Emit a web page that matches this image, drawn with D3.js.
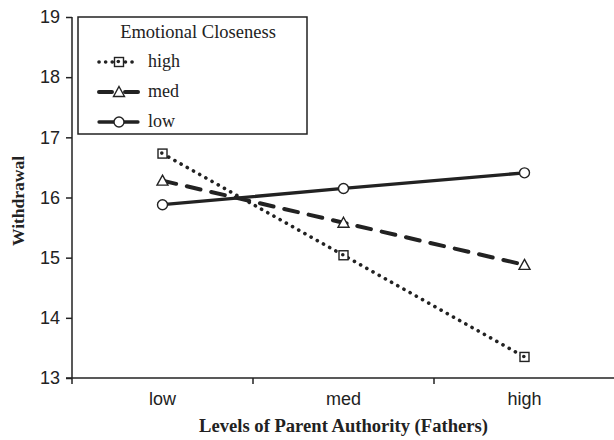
<!DOCTYPE html>
<html>
<head>
<meta charset="utf-8">
<script src="https://cdn.jsdelivr.net/npm/d3@7"></script>
<style>
  body { margin: 0; background: #fff; }
  svg { display: block; }
</style>
</head>
<body>
<svg id="chart" width="614" height="440"></svg>
<script>
// data
var levels = ["low", "med", "high"]
var closeness = ["high", "med", "low"]
var highVals = [16.73, 15.04, 13.35]
var medVals = [16.28, 15.58, 14.88]
var lowVals = [15.88, 16.15, 16.41]
var yTicks = [13, 14, 15, 16, 17, 18, 19]

var series = [
    {name: "high", values: highVals, dash: "0.1,7", legDash: "0.1,6.5", width: 3.6, marker: "square"},
    {name: "med", values: medVals, dash: "14,11", legDash: "13,13,13", width: 4, marker: "triangle"},
    {name: "low", values: lowVals, dash: null, legDash: null, width: 3.3, marker: "circle"}
]

var svg = d3.select("#chart")
var pLeft = 72, pRight = 615, pTop = 17, pBottom = 378

var x = d3.scaleBand().domain(levels).range([pLeft, pRight])
var y = d3.scaleLinear().domain([13, 19]).range([pBottom, pTop])
var ink = "#222"
var sans = "'Liberation Sans', Arial, sans-serif"
var serif = "'Liberation Serif', 'Times New Roman', serif"

// y axis
var yAxis = svg.append("g")
    .attr("transform", "translate(" + pLeft + ",0)")
    .call(d3.axisLeft(y).tickValues(yTicks).tickSize(6).tickPadding(6).tickFormat(d3.format("d")))
yAxis.select(".domain").attr("stroke", ink).attr("stroke-width", 1.5).attr("d", "M0," + pTop + "V" + pBottom)
yAxis.selectAll(".tick line").attr("stroke", ink).attr("stroke-width", 1.5)
yAxis.selectAll("text")
    .style("font-family", sans)
    .style("font-size", "18px")
    .attr("fill", ink)

// x axis, ticks on the category boundaries
var xAxis = svg.append("g").attr("transform", "translate(0," + pBottom + ")")
xAxis.append("line")
    .attr("x1", pLeft - 6).attr("x2", pRight)
    .attr("stroke", ink).attr("stroke-width", 1.5)
var bounds = [pLeft].concat(levels.slice(1).map(function(d){ return x(d) }))
xAxis.selectAll(".xt")
    .data(bounds)
    .enter().append("line")
    .attr("class", "xt")
    .attr("x1", function(d){ return d }).attr("x2", function(d){ return d })
    .attr("y1", 0).attr("y2", 6)
    .attr("stroke", ink).attr("stroke-width", 1.5)
xAxis.selectAll(".xl")
    .data(levels)
    .enter().append("text")
    .attr("class", "xl")
    .attr("x", function(d){ return x(d) + x.bandwidth()/2 })
    .attr("y", 27)
    .attr("text-anchor", "middle")
    .style("font-family", sans)
    .style("font-size", "18px")
    .attr("fill", ink)
    .text(function(d){ return d })

// axis titles
svg.append("text")
    .attr("x", (pLeft + pRight)/2).attr("y", 432)
    .attr("text-anchor", "middle")
    .style("font-family", serif)
    .style("font-weight", "bold")
    .style("font-size", "18.6px")
    .attr("fill", ink)
    .text("Levels of Parent Authority (Fathers)")
svg.append("text")
    .attr("transform", "translate(24," + 201 + ") rotate(-90)")
    .attr("text-anchor", "middle")
    .style("font-family", serif)
    .style("font-weight", "bold")
    .style("font-size", "17.5px")
    .attr("fill", ink)
    .text("Withdrawal")

function drawMarker(g, type, cx, cy){
    if(type == "square"){
        g.append("rect")
            .attr("x", cx - 4.5).attr("y", cy - 4.5).attr("width", 9).attr("height", 9)
            .attr("fill", "#fff").attr("stroke", ink).attr("stroke-width", 1.4)
        g.append("circle").attr("cx", cx - 0.7).attr("cy", cy - 0.5).attr("r", 1.8).attr("fill", ink)
    } else if(type == "triangle"){
        g.append("path")
            .attr("d", "M" + cx + "," + (cy - 5.5) + "L" + (cx + 5.5) + "," + (cy + 4.5) + "L" + (cx - 5.5) + "," + (cy + 4.5) + "Z")
            .attr("fill", "#fff").attr("stroke", ink).attr("stroke-width", 1.4)
    } else {
        g.append("circle").attr("cx", cx).attr("cy", cy).attr("r", 5)
            .attr("fill", "#fff").attr("stroke", ink).attr("stroke-width", 1.4)
    }
}

var line = d3.line()
    .x(function(d, i){ return x(levels[i]) + x.bandwidth()/2 })
    .y(function(d){ return y(d) })

series.forEach(function(s){
    var g = svg.append("g").attr("class", "series")
    g.append("path")
        .datum(s.values)
        .attr("d", line)
        .attr("fill", "none")
        .attr("stroke", ink)
        .attr("stroke-width", s.width)
        .attr("stroke-linecap", "round")
        .attr("stroke-dasharray", s.dash)
    s.values.forEach(function(v, i){
        drawMarker(g, s.marker, x(levels[i]) + x.bandwidth()/2, y(v))
    })
})

// legend
var lg = svg.append("g").attr("transform", "translate(78,17)")
lg.append("rect")
    .attr("width", 229).attr("height", 117)
    .attr("fill", "#fff").attr("stroke", ink).attr("stroke-width", 1.5)
lg.append("text")
    .attr("x", 120).attr("y", 21)
    .attr("text-anchor", "middle")
    .style("font-family", serif)
    .style("font-size", "18.5px")
    .attr("fill", ink)
    .text("Emotional Closeness")
series.forEach(function(s, i){
    var yy = 45 + i*30
    var item = lg.append("g")
    item.append("line")
        .attr("x1", 21).attr("x2", 60).attr("y1", yy).attr("y2", yy)
        .attr("stroke", ink).attr("stroke-width", s.width)
        .attr("stroke-linecap", "round")
        .attr("stroke-dasharray", s.legDash)
    drawMarker(item, s.marker, 41, yy)
    item.append("text")
        .attr("x", 70).attr("y", yy + 5)
        .style("font-family", serif)
        .style("font-size", "18px")
        .attr("fill", ink)
        .text(closeness[i])
})
</script>
</body>
</html>
